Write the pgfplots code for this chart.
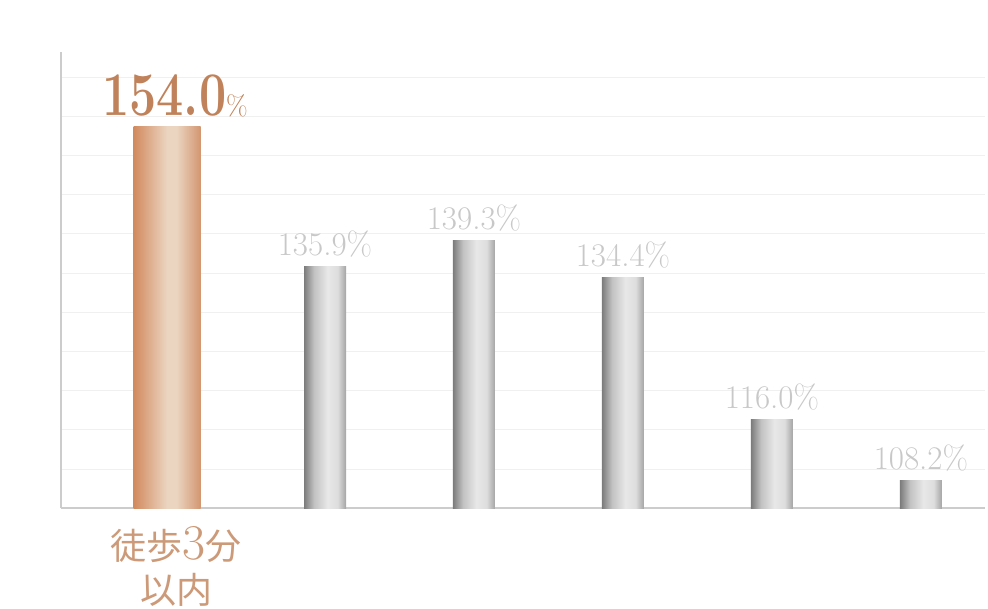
\documentclass[border=0pt]{standalone}
\usepackage{fontspec}
\usepackage{pgfplots}
\pgfplotsset{compat=1.18}
\newfontfamily\cjk{Noto Sans CJK JP}

\definecolor{or1}{HTML}{D28A5E}
\definecolor{or2}{HTML}{EBD5C1}
\definecolor{or3}{HTML}{D29670}
\definecolor{gr1}{HTML}{7C7C7C}
\definecolor{gr2}{HTML}{E8E8E8}
\definecolor{gr3}{HTML}{A4A4A4}
\definecolor{ortext}{HTML}{C0825A}
\definecolor{catext}{HTML}{CC9A78}
\definecolor{grtext}{HTML}{C8C8C8}

% tikz maps the path onto 25bp..75bp of a 100bp shading
\pgfdeclarehorizontalshading{orangebar}{100bp}{color(0bp)=(or1); color(25bp)=(or1); color(50bp)=(or2); color(57bp)=(or2); color(75bp)=(or3); color(100bp)=(or3)}
\pgfdeclarehorizontalshading{graybar}{100bp}{color(0bp)=(gr1); color(25bp)=(gr1); color(37bp)=(gr2!65!gr1); color(53bp)=(gr2); color(65bp)=(gr2!85!gr3); color(75bp)=(gr3); color(100bp)=(gr3)}

\begin{document}
\begin{tikzpicture}
    \useasboundingbox (0,0) rectangle (988pt,608pt);
    \begin{axis}[
            at={(61pt,100pt)}, anchor=south west,
            scale only axis,
            width=924pt, height=456pt,
            ymin=104.6, ymax=163.66,
            xmin=-0.772, xmax=5.43,
            axis lines*=left,
            axis line style={draw=black!20, line width=1.2pt},
            ytick={109.65,114.73,119.80,124.88,129.96,135.03,140.11,145.19,150.27,155.34,160.42},
            yticklabels={},
            ymajorgrids,
            grid style={draw=black!6, line width=1pt},
            major tick length=0pt,
            xtick={0},
            xticklabels={徒歩{\rmfamily\fontsize{50}{44}\selectfont 3}分\\以内},
            xticklabel style={align=center, text=catext,
                font=\fontsize{36}{44}\selectfont\cjk, inner sep=0pt, yshift=-18pt},
            ybar, bar shift=0pt,
            /pgf/number format/assume math mode=true,
            every node near coord/.append style={anchor=base, yshift=11pt, inner sep=0pt},
            clip=false,
        ]
        % highlighted bar
        \addplot[draw=none, shading=orangebar, bar width=67pt, bar shift=-9pt,
            nodes near coords={{\fontsize{62}{62}\selectfont\bfseries\scalebox{0.78}[1]{154.0}}{\fontsize{28}{28}\selectfont\%}},
            every node near coord/.append style={text=ortext, xshift=8pt}]
            coordinates {(0,154.0)};
        % grey bars, one plot each so every bar gets its own shading
        \addplot[draw=none, shading=graybar, bar width=42pt,
            nodes near coords={\pgfmathprintnumber[fixed,fixed zerofill,precision=1]{\pgfplotspointmeta}\%},
            every node near coord/.append style={text=grtext, font=\fontsize{33}{33}\selectfont}]
            coordinates {(1,135.9)};
        \addplot[draw=none, shading=graybar, bar width=42pt,
            nodes near coords={\pgfmathprintnumber[fixed,fixed zerofill,precision=1]{\pgfplotspointmeta}\%},
            every node near coord/.append style={text=grtext, font=\fontsize{33}{33}\selectfont}]
            coordinates {(2,139.3)};
        \addplot[draw=none, shading=graybar, bar width=42pt,
            nodes near coords={\pgfmathprintnumber[fixed,fixed zerofill,precision=1]{\pgfplotspointmeta}\%},
            every node near coord/.append style={text=grtext, font=\fontsize{33}{33}\selectfont}]
            coordinates {(3,134.4)};
        \addplot[draw=none, shading=graybar, bar width=42pt,
            nodes near coords={\pgfmathprintnumber[fixed,fixed zerofill,precision=1]{\pgfplotspointmeta}\%},
            every node near coord/.append style={text=grtext, font=\fontsize{33}{33}\selectfont}]
            coordinates {(4,116.0)};
        \addplot[draw=none, shading=graybar, bar width=42pt,
            nodes near coords={\pgfmathprintnumber[fixed,fixed zerofill,precision=1]{\pgfplotspointmeta}\%},
            every node near coord/.append style={text=grtext, font=\fontsize{33}{33}\selectfont}]
            coordinates {(5,108.2)};
    \end{axis}
\end{tikzpicture}
\end{document}
